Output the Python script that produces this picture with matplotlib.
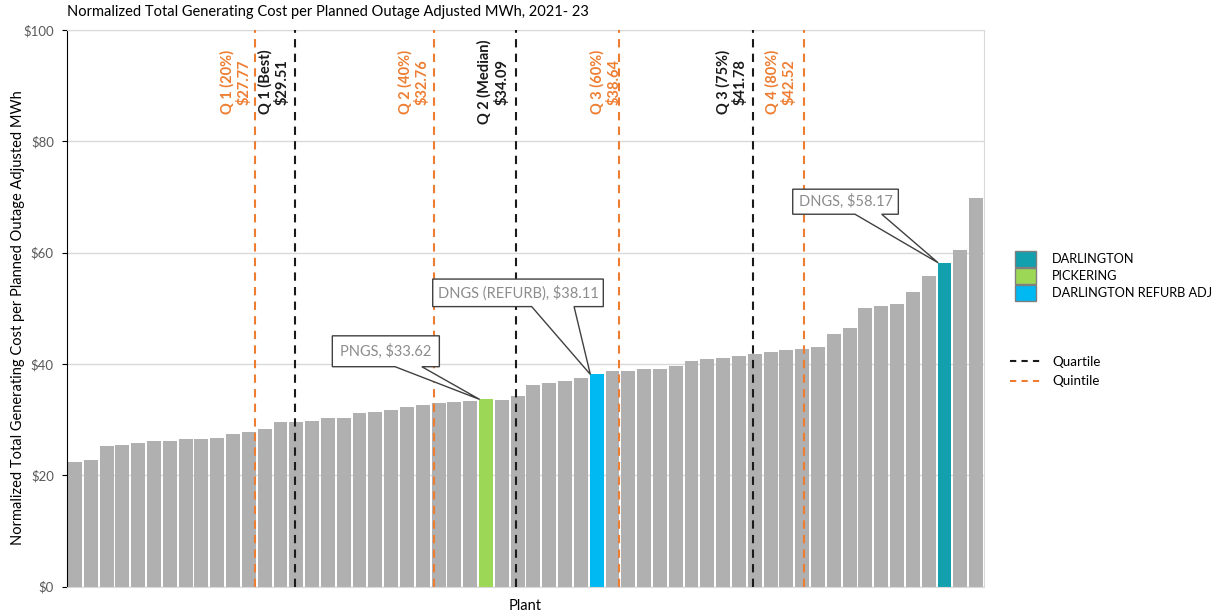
import numpy as np
import matplotlib
matplotlib.use('Agg')
import matplotlib.pyplot as plt
from matplotlib.patches import Patch, Polygon
from matplotlib.lines import Line2D

plt.rcParams['font.family'] = ['Lato', 'DejaVu Sans']

# ---- data ----
costs = [22.3, 22.75, 25.3, 25.5, 25.75, 26.2, 26.2, 26.5, 26.5, 26.7,
         27.4, 27.7, 28.3, 29.5, 29.6, 29.8, 30.25, 30.25, 31.2, 31.35,
         31.75, 32.2, 32.7, 33.0, 33.2, 33.35, 33.62, 33.55, 34.15, 36.3,
         36.5, 36.9, 37.5, 38.11, 38.7, 38.7, 39.05, 39.05, 39.7, 40.6,
         40.85, 41.05, 41.45, 41.8, 42.1, 42.5, 42.7, 43.1, 45.4, 46.5,
         50.0, 50.4, 50.8, 53.0, 55.85, 58.17, 60.4, 69.9]
pickering_idx = 26
refurb_idx = 33
darlington_idx = 55

# stat lines: label, value, position along the plant axis, kind
stat_labels = ['Q 1 (20%)', 'Q 1 (Best)', 'Q 2 (40%)', 'Q 2 (Median)',
               'Q 3 (60%)', 'Q 3 (75%)', 'Q 4 (80%)']
stat_values = [27.77, 29.51, 32.76, 34.09, 38.64, 41.78, 42.52]
stat_pos = [11.41, 13.92, 22.73, 27.9, 34.41, 42.91, 46.12]
stat_kind = ['quintile', 'quartile', 'quintile', 'quartile',
             'quintile', 'quartile', 'quintile']

callout_text = ['PNGS, $33.62', 'DNGS (REFURB), $38.11', 'DNGS, $58.17']
callout_bar = [pickering_idx, refurb_idx, darlington_idx]

legend_labels = ['DARLINGTON', 'PICKERING', 'DARLINGTON REFURB ADJ']

# ---- styles ----
grey = '#B0B0B0'
teal = '#12A0AE'
green = '#9CD755'
blue = '#00B8F2'
orange = '#ED7D31'
kind_color = {'quartile': '#1a1a1a', 'quintile': orange}
label_dx = [-0.23, -0.32, -0.27, -0.43, 0.17, -0.36, -0.47]
# callout boxes (x0, x1, y0, y1) and wedge base (b0, b1)
callout_box = [(16.28, 23.05, 39.5, 45.05), (22.63, 33.42, 50.3, 55.25),
               (45.4, 52.08, 66.9, 71.4)]
callout_base = [(20.25, 21.94), (28.89, 31.57), (49.34, 51.03)]

fig = plt.figure(figsize=(12.23, 6.13), dpi=100)
ax = fig.add_axes([0.0548, 0.0432, 0.7498, 0.9078])

x = np.arange(len(costs))
colors = [grey] * len(costs)
colors[darlington_idx] = teal
colors[pickering_idx] = green
colors[refurb_idx] = blue
ax.bar(x, costs, width=0.88, color=colors, zorder=2)

ax.set_xlim(-0.5, len(costs) - 0.5)
ax.set_ylim(0, 100)
ax.set_yticks(np.arange(0, 101, 20))
ax.set_yticklabels(['$%d' % v for v in range(0, 101, 20)])
ax.tick_params(axis='y', colors='black', labelcolor='#595959',
               labelsize=9.5, length=3.5, pad=6)
ax.set_xticks([])
ax.grid(axis='y', color='#D9D9D9', linewidth=1, zorder=0)
for s in ['top', 'right', 'bottom']:
    ax.spines[s].set_color('#D9D9D9')
ax.spines['left'].set_color('black')

for lab, val, pos, kind, dx in zip(stat_labels, stat_values, stat_pos,
                                   stat_kind, label_dx):
    c = kind_color[kind]
    ax.axvline(pos, color=c, linestyle=(0, (4, 3)), linewidth=1.5, zorder=3)
    ax.text(pos + dx, 90.7, '%s\n$%.2f' % (lab, val), rotation=90,
            ha='right', va='center', multialignment='center',
            color=c, fontsize=10.5, fontweight='bold', zorder=4)

for txt, bi, (x0, x1, y0, y1), (b0, b1) in zip(callout_text, callout_bar,
                                               callout_box, callout_base):
    tip = (bi - 0.4, costs[bi])
    poly = Polygon([(x0, y0), (b0, y0), tip, (b1, y0), (x1, y0),
                    (x1, y1), (x0, y1)], closed=True, facecolor='white',
                   edgecolor='#404040', linewidth=1, zorder=5)
    ax.add_patch(poly)
    ax.text((x0 + x1) / 2, (y0 + y1) / 2, txt, ha='center', va='center',
            color='#8C8C8C', fontsize=10.5, zorder=6)

fig.text(18 / 1223, 0.482,
         'Normalized Total Generating Cost per Planned Outage Adjusted MWh',
         rotation=90, fontsize=10.5, ha='center', va='center')
ax.set_xlabel('Plant', fontsize=10.5, labelpad=9)
fig.text(0.0548, 0.98, 'Normalized Total Generating Cost per Planned Outage Adjusted MWh, 2021- 23',
         fontsize=10.5, ha='left', va='center')

patch_handles = [Patch(facecolor=teal, edgecolor='#7F7F7F'),
                 Patch(facecolor=green, edgecolor='#7F7F7F'),
                 Patch(facecolor=blue, edgecolor='#7F7F7F')]
leg1 = fig.legend(patch_handles, legend_labels, loc='upper left',
                  bbox_to_anchor=(0.830, 0.5905), frameon=False,
                  fontsize=9.2, handlelength=1.6, handleheight=1.55,
                  labelspacing=0.08, handletextpad=1.25, borderpad=0,
                  borderaxespad=0)
line_handles = [Line2D([], [], color='#1a1a1a', linestyle=(0, (3, 2.5)), linewidth=1.5),
                Line2D([], [], color=orange, linestyle=(0, (3, 2.5)), linewidth=1.5)]
leg2 = fig.legend(line_handles, ['Quartile', 'Quintile'], loc='upper left',
                  bbox_to_anchor=(0.8258, 0.4192), frameon=False,
                  fontsize=9.6, handlelength=2.4, labelspacing=0.55,
                  handletextpad=0.75, borderpad=0, borderaxespad=0)

fig.savefig('out.png', dpi=100)
